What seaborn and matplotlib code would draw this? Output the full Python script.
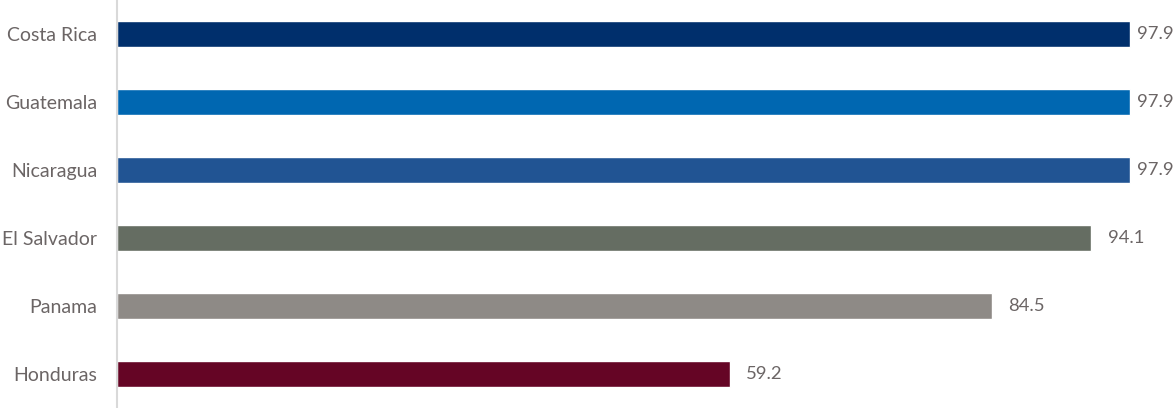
import matplotlib
matplotlib.use("Agg")
import matplotlib.pyplot as plt
import seaborn as sns
import pandas as pd

countries = ["Costa Rica", "Guatemala", "Nicaragua", "El Salvador", "Panama", "Honduras"]
values = [97.9, 97.9, 97.9, 94.1, 84.5, 59.2]
colors = ["#002F6C", "#0067B1", "#215493", "#656D62", "#8E8A86", "#650525"]

sns.set_theme(style="white")
plt.rcParams["font.family"] = ["Lato", "DejaVu Sans"]

df = pd.DataFrame({"country": countries, "value": values})

fig = plt.figure(figsize=(11.75, 4.08), dpi=100)
ax = fig.add_axes([0.0992, 0.0, 0.9008, 1.0])
sns.barplot(data=df, x="value", y="country", hue="country", palette=colors,
            order=countries, hue_order=countries, width=0.38, legend=False,
            orient="h", ax=ax, saturation=1)

ax.set_xlim(0, 102.2)
ax.set_ylim(5.5, -0.5)
text_color = "#6B6565"
for i, v in enumerate(values):
    off = 4.5 if v > 96 else 12
    ax.annotate(f"{v:.1f}", xy=(v, i), xytext=(off, 0), textcoords="offset points",
                va="center", ha="left", fontsize=13.3, color=text_color,
                annotation_clip=False)

ax.set_xlabel("")
ax.set_ylabel("")
ax.set_xticks([])
ax.tick_params(axis="y", length=0, pad=14, labelsize=14, labelcolor=text_color)
for s in ["top", "right", "bottom"]:
    ax.spines[s].set_visible(False)
ax.spines["left"].set_color("#D9D9D9")
ax.spines["left"].set_linewidth(1.5)

fig.savefig("out.png", dpi=100)
